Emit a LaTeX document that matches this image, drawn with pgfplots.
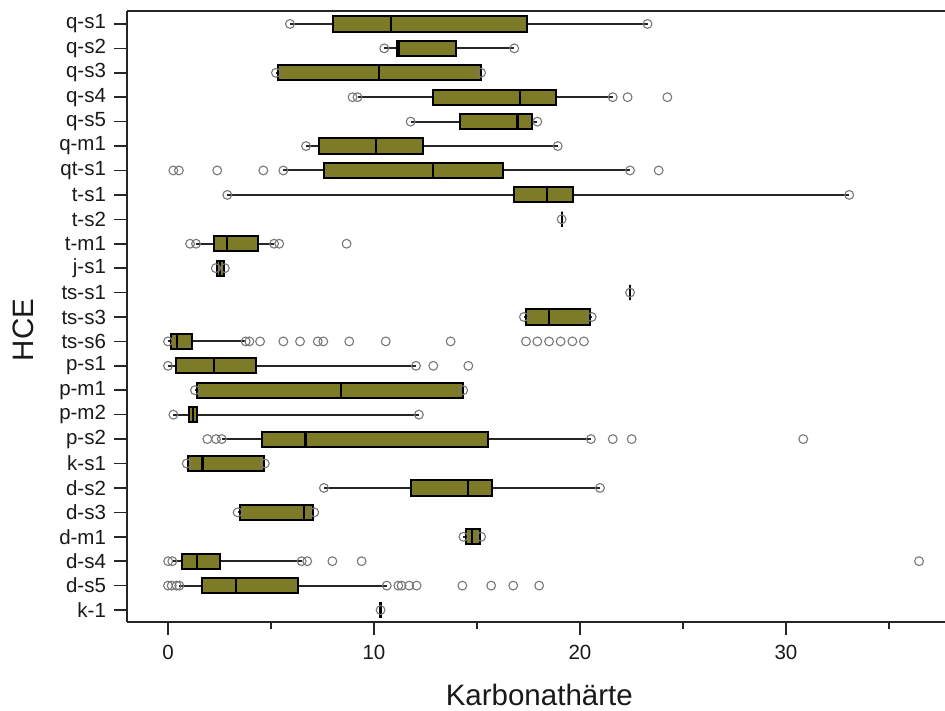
\documentclass[border=0pt]{standalone}
\usepackage{pgfplots}
\pgfplotsset{compat=1.18}
\usepgfplotslibrary{statistics}
\usepackage{fontspec}
\setmainfont{Liberation Sans}
\definecolor{boxcol}{RGB}{126,123,40}
\definecolor{circcol}{RGB}{120,120,120}
\newcommand{\bx}[6]{\addplot[boxplot prepared={draw position=#1, lower whisker=#2, lower quartile=#3, median=#4, upper quartile=#5, upper whisker=#6}] coordinates {};}
\begin{document}
\begin{tikzpicture}
\useasboundingbox (-127pt,-89pt) rectangle (818pt,622pt);
\begin{axis}[
  scale only axis, width=818pt, height=611pt,
  at={(0,0)}, anchor=south west,
  xmin=-1.99, xmax=37.72,
  ymin=-0.53, ymax=24.49, y dir=reverse,
  axis x line*=box, axis y line*=left,
  axis line style={-, line width=2pt, black!85},
  xtick={0,10,20,30}, minor xtick={5,15,25,35},
  ytick={0,...,24},
  yticklabels={q-s1,q-s2,q-s3,q-s4,q-s5,q-m1,qt-s1,t-s1,t-s2,t-m1,j-s1,ts-s1,ts-s3,ts-s6,p-s1,p-m1,p-m2,p-s2,k-s1,d-s2,d-s3,d-m1,d-s4,d-s5,k-1},
  xtick pos=bottom, ytick pos=left,
  tick align=outside,
  major tick length=12.5pt, minor tick length=6.5pt,
  every tick/.style={black!85, line width=1.6pt},
  /pgf/number format/assume math mode=true,
  ticklabel style={font=\fontsize{20.5}{23}\selectfont, text=black!90},
  xticklabel style={yshift=-7pt},
  yticklabel style={xshift=-5pt},
  xlabel={Karbonathärte}, ylabel={HCE},
  label style={font=\fontsize{29.5}{32}\selectfont, text=black!90},
  xlabel style={at={(axis description cs:0.504,-0.1195)}, anchor=center},
  ylabel style={at={(axis description cs:-0.127,0.478)}, anchor=center},
  boxplot/draw direction=x,
  boxplot/box extend=0.62,
  boxplot/whisker extend=0,
  boxplot/every box/.style={draw=black, fill=boxcol, line width=2pt},
  boxplot/every whisker/.style={draw=black!85, line width=2pt},
  boxplot/every median/.style={draw=black, line width=2.2pt},
  clip=false,
]
\bx{0}{5.92}{8.03}{10.81}{17.41}{23.28}
\bx{1}{10.5}{11.1}{11.22}{14.0}{16.81}
\bx{2}{5.24}{5.32}{10.24}{15.18}{15.2}
\bx{3}{9.2}{12.88}{17.1}{18.82}{21.59}
\bx{4}{11.78}{14.17}{16.97}{17.69}{17.93}
\bx{5}{6.7}{7.35}{10.1}{12.36}{18.92}
\bx{6}{5.6}{7.57}{12.88}{16.28}{22.43}
\bx{7}{2.88}{16.81}{18.38}{19.64}{33.07}
\bx{8}{19.11}{19.11}{19.11}{19.11}{19.11}
\bx{9}{1.36}{2.23}{2.85}{4.35}{5.15}
\bx{10}{2.32}{2.36}{2.52}{2.72}{2.76}
\bx{11}{22.43}{22.43}{22.43}{22.43}{22.43}
\bx{12}{17.28}{17.38}{18.5}{20.49}{20.57}
\bx{13}{0.0}{0.13}{0.42}{1.15}{3.77}
\bx{14}{0.0}{0.39}{2.22}{4.26}{12.04}
\bx{15}{1.31}{1.42}{8.4}{14.3}{14.33}
\bx{16}{0.26}{1.03}{1.23}{1.42}{12.18}
\bx{17}{2.61}{4.55}{6.68}{15.52}{20.53}
\bx{18}{0.91}{0.99}{1.68}{4.66}{4.7}
\bx{19}{7.57}{11.78}{14.58}{15.74}{20.97}
\bx{20}{3.38}{3.5}{6.6}{7.02}{7.1}
\bx{21}{14.34}{14.45}{14.77}{15.15}{15.2}
\bx{22}{0.21}{0.69}{1.42}{2.52}{6.49}
\bx{23}{0.55}{1.64}{3.3}{6.33}{10.62}
\bx{24}{10.32}{10.32}{10.32}{10.32}{10.32}
\addplot[only marks, mark=o, mark size=4.4pt, draw=circcol, mark options={line width=1.1pt, draw=circcol}] table {
x y
5.92 0
23.28 0
10.5 1
16.81 1
5.24 2
15.2 2
8.96 3
9.2 3
21.59 3
22.31 3
24.24 3
11.78 4
17.93 4
6.7 5
18.92 5
0.26 6
0.53 6
2.39 6
4.63 6
5.6 6
22.43 6
23.82 6
2.88 7
33.07 7
19.11 8
1.07 9
1.36 9
5.15 9
5.4 9
8.67 9
2.32 10
2.76 10
22.43 11
17.28 12
20.57 12
0.0 13
3.77 13
3.95 13
4.47 13
5.6 13
6.41 13
7.27 13
7.54 13
8.8 13
10.57 13
13.72 13
17.38 13
17.93 13
18.5 13
19.06 13
19.63 13
20.19 13
0.0 14
12.04 14
12.88 14
14.58 14
1.31 15
14.33 15
0.26 16
12.18 16
1.91 17
2.33 17
2.61 17
20.53 17
21.59 17
22.51 17
30.84 17
0.91 18
4.7 18
7.57 19
20.97 19
3.38 20
7.1 20
14.34 21
15.2 21
0.01 22
0.21 22
6.49 22
6.76 22
7.98 22
9.4 22
36.46 22
0.0 23
0.18 23
0.42 23
0.55 23
10.62 23
11.18 23
11.34 23
11.71 23
12.07 23
14.29 23
15.69 23
16.76 23
18.02 23
10.32 24
};
\end{axis}
\end{tikzpicture}
\end{document}
